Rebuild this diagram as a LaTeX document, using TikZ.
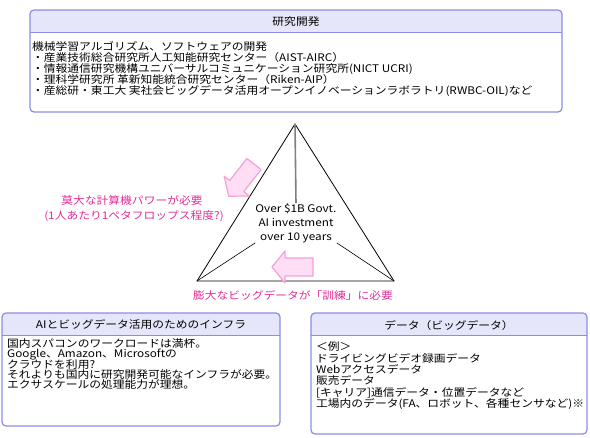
\documentclass[tikz,border=0pt]{standalone}
\usepackage{fontspec}
\setmainfont[FakeStretch=1.12]{Noto Sans CJK JP}
\usetikzlibrary{positioning}
\definecolor{frameblue}{HTML}{8C8CE6}
\definecolor{headblue}{HTML}{E6E6FA}
\definecolor{notepink}{HTML}{E22C96}
\definecolor{arrowfill}{HTML}{FFDDF4}
\definecolor{arrowline}{HTML}{F2A2D6}
\tikzset{fatarrow/.pic={
  \draw[draw=arrowline,fill=arrowfill,line width=1.2pt,line join=round]
    (0,-9) -- (-28,-9) -- (-28,-16) -- (-41,0) -- (-28,16) -- (-28,9) -- (0,9) -- cycle;}}

\begin{document}
\begin{tikzpicture}[x=1pt,y=-1pt,font=\fontsize{10.5}{14}\selectfont]
  \tikzstyle{panel}=[draw=frameblue,line width=1.2pt,rounded corners=4pt]
  \tikzstyle{line}=[anchor=base west,inner sep=0pt]
  \tikzstyle{title}=[anchor=base,inner sep=0pt]
  \tikzstyle{note}=[anchor=base,inner sep=0pt,text=notepink]

  \useasboundingbox (0,0) rectangle (590,438);

  \foreach \name/\xa/\ya/\xb/\yb in {rd/30/10/562/112, infra/2/313/280/426, data/311/313/587/434}
  {
    \begin{scope}
      \clip[rounded corners=4pt] (\xa,\ya) rectangle (\xb,\yb);
      \fill[headblue] (\xa,\ya) rectangle (\xb,\ya+23);
    \end{scope}
    \draw[frameblue,line width=1pt] (\xa,\ya+23) -- (\xb,\ya+23);
    \draw[panel] (\xa,\ya) rectangle (\xb,\yb);
  }

  \node[title] (rd-head) at (296,26) {研究開発};
  \foreach \txt [count=\i] in {{機械学習アルゴリズム、ソフトウェアの開発},
      {・産業技術総合研究所人工知能研究センター（AIST-AIRC）},
      {・情報通信研究機構ユニバーサルコミュニケーション研究所(NICT UCRI)},
      {・理科学研究所 革新知能統合研究センター（Riken-AIP）},
      {・産総研・東工大 実社会ビッグデータ活用オープンイノベーションラボラトリ(RWBC-OIL)など}}
    \node[line] (rd-\i) at (32,{51+11*(\i-1)}) {\txt};

  \node[title] (infra-head) at (141,329) {AIとビッグデータ活用のためのインフラ};
  \foreach \txt [count=\i] in {{国内スパコンのワークロードは満杯。},
      {Google、Amazon、Microsoftの},
      {クラウドを利用?},
      {それよりも国内に研究開発可能なインフラが必要。},
      {エクサスケールの処理能力が理想。}}
    \node[line] (infra-\i) at (7,{347.3+10.4*(\i-1)}) {\txt};

  \node[title] (data-head) at (449,330) {データ（ビッグデータ）};
  \foreach \txt [count=\i] in {{＜例＞},
      {ドライビングビデオ録画データ},
      {Webアクセスデータ},
      {販売データ},
      {[キャリア]通信データ・位置データなど},
      {工場内のデータ(FA、ロボット、各種センサなど)※}}
    \node[line] (data-\i) at (316,{351+11.3*(\i-1)}) {\txt};

  \coordinate (apex) at (295,124);
  \coordinate (lft) at (197,281);
  \coordinate (rgt) at (394,281);
  \node[align=center,inner sep=0pt] (ctr) at (296,223) {Over \$1B Govt.\\AI investment\\over 10 years};
  \draw[line width=0.8pt] (apex) -- (lft) -- (rgt) -- cycle;
  \draw[gray,line width=1.6pt] (apex) -- (ctr.north);
  \draw[line width=0.6pt] (lft) -- (ctr.south west);
  \draw[line width=0.6pt] (rgt) -- (ctr.south east);

  \pic[rotate=52] (powarrow) at (254,164) {fatarrow};
  \pic (dataarrow) at (313,267) {fatarrow};

  \node[note] (pow-1) at (132,205) {莫大な計算機パワーが必要};
  \node[note] (pow-2) at (134,220) {(1人あたり1ペタフロップス程度?)};
  \node[note] (train) at (293,300) {膨大なビッグデータが「訓練」に必要};
\end{tikzpicture}
\end{document}
